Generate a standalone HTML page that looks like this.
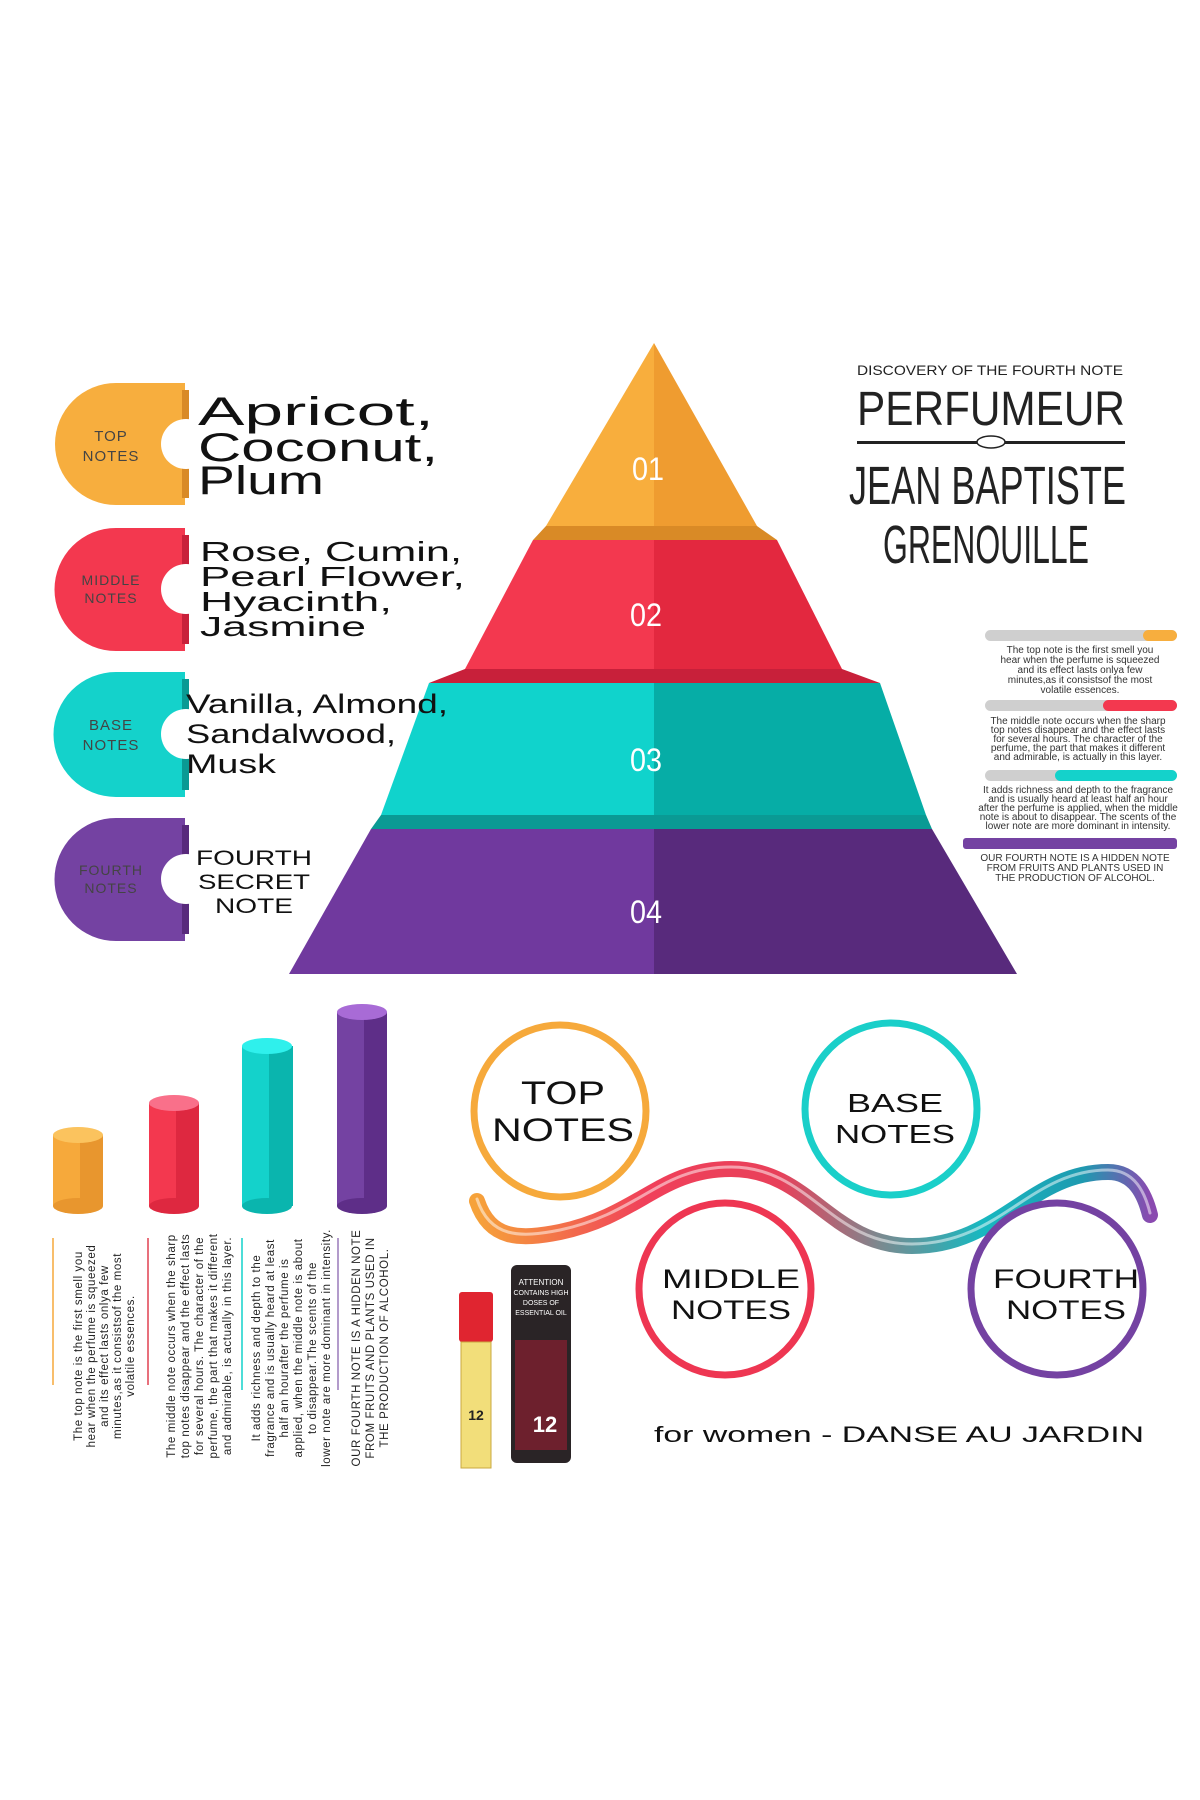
<!DOCTYPE html>
<html><head><meta charset="utf-8"><style>
html,body{margin:0;padding:0;background:#fff;}
svg{display:block;}
text{font-family:"Liberation Sans",sans-serif;}
</style></head><body>
<svg width="1200" height="1800" viewBox="0 0 1200 1800" xmlns="http://www.w3.org/2000/svg">
<defs>
<linearGradient id="wg" x1="477" y1="0" x2="1150" y2="0" gradientUnits="userSpaceOnUse">
<stop offset="0" stop-color="#F6A23A"/><stop offset="0.25" stop-color="#F0405A"/><stop offset="0.45" stop-color="#E8405A"/><stop offset="0.6" stop-color="#7A8A90"/><stop offset="0.75" stop-color="#18B8C0"/><stop offset="0.9" stop-color="#1E9AB0"/><stop offset="1" stop-color="#8A4AB0"/>
</linearGradient>
</defs>
<rect width="1200" height="1800" fill="#fff"/>

<!-- Pyramid -->
<polygon points="654,343 546,526 654,526" fill="#F8AE3D"/>
<polygon points="654,343 757,526 654,526" fill="#EF9C30"/>
<polygon points="546,526 757,526 777,540 533,540" fill="#D98A26"/>
<polygon points="533,540 654,540 654,669 465,669" fill="#F3384F"/>
<polygon points="654,540 777,540 842,669 654,669" fill="#E3283F"/>
<polygon points="465,669 842,669 880,683 429,683" fill="#C8203A"/>
<polygon points="429,683 654,683 654,815 381,815" fill="#10D3CC"/>
<polygon points="654,683 880,683 926,815 654,815" fill="#06ADA6"/>
<polygon points="381,815 926,815 932,829 371,829" fill="#0A9A94"/>
<polygon points="371,829 654,829 654,974 289,974" fill="#70399E"/>
<polygon points="654,829 932,829 1017,974 654,974" fill="#582A7C"/>
<g fill="#fff" font-size="32" text-anchor="middle">
<text x="648" y="480" textLength="32" lengthAdjust="spacingAndGlyphs">01</text>
<text x="646" y="626" textLength="32" lengthAdjust="spacingAndGlyphs">02</text>
<text x="646" y="771" textLength="32" lengthAdjust="spacingAndGlyphs">03</text>
<text x="646" y="923" textLength="32" lengthAdjust="spacingAndGlyphs">04</text>
</g>

<!-- Tabs -->
<g>
<path d="M116 383 H185 V505 H116 A61 61 0 0 1 116 383 Z" fill="#F7AE3E"/>
<rect x="182" y="390" width="7" height="108" fill="#D98A26"/>
<circle cx="186" cy="444" r="25" fill="#fff"/>
<text x="111" y="441" font-size="15" fill="#444" text-anchor="middle" letter-spacing="1">TOP</text>
<text x="111" y="461" font-size="15" fill="#444" text-anchor="middle" letter-spacing="1">NOTES</text>

<path d="M116 528 H185 V651 H116 A61.5 61.5 0 0 1 116 528 Z" fill="#F3384F"/>
<rect x="182" y="535" width="7" height="109" fill="#C8203A"/>
<circle cx="186" cy="589" r="25" fill="#fff"/>
<text x="111" y="585" font-size="14" fill="#444" text-anchor="middle" letter-spacing="1">MIDDLE</text>
<text x="111" y="603" font-size="14" fill="#444" text-anchor="middle" letter-spacing="1">NOTES</text>

<path d="M116 672 H185 V797 H116 A62.5 62.5 0 0 1 116 672 Z" fill="#14D2CB"/>
<rect x="182" y="679" width="7" height="111" fill="#0A9A94"/>
<circle cx="186" cy="734" r="25" fill="#fff"/>
<text x="111" y="730" font-size="15" fill="#444" text-anchor="middle" letter-spacing="1">BASE</text>
<text x="111" y="750" font-size="15" fill="#444" text-anchor="middle" letter-spacing="1">NOTES</text>

<path d="M116 818 H185 V941 H116 A61.5 61.5 0 0 1 116 818 Z" fill="#7442A2"/>
<rect x="182" y="825" width="7" height="109" fill="#582A7C"/>
<circle cx="186" cy="879" r="25" fill="#fff"/>
<text x="111" y="875" font-size="14" fill="#444" text-anchor="middle" letter-spacing="1">FOURTH</text>
<text x="111" y="893" font-size="14" fill="#444" text-anchor="middle" letter-spacing="1">NOTES</text>
</g>

<!-- Tab item texts -->
<g fill="#111">
<text x="198" y="425" font-size="40" textLength="236" lengthAdjust="spacingAndGlyphs">Apricot,</text>
<text x="198" y="461" font-size="40" textLength="240" lengthAdjust="spacingAndGlyphs">Coconut,</text>
<text x="198" y="494" font-size="40" textLength="126" lengthAdjust="spacingAndGlyphs">Plum</text>
<text x="200" y="561" font-size="28" textLength="262" lengthAdjust="spacingAndGlyphs">Rose, Cumin,</text>
<text x="200" y="586" font-size="28" textLength="265" lengthAdjust="spacingAndGlyphs">Pearl Flower,</text>
<text x="200" y="611" font-size="28" textLength="192" lengthAdjust="spacingAndGlyphs">Hyacinth,</text>
<text x="200" y="636" font-size="28" textLength="166" lengthAdjust="spacingAndGlyphs">Jasmine</text>
<text x="186" y="713" font-size="27" textLength="262" lengthAdjust="spacingAndGlyphs">Vanilla, Almond,</text>
<text x="186" y="743" font-size="27" textLength="210" lengthAdjust="spacingAndGlyphs">Sandalwood,</text>
<text x="186" y="773" font-size="27" textLength="90" lengthAdjust="spacingAndGlyphs">Musk</text>
<text x="254" y="865" font-size="21" text-anchor="middle" textLength="116" lengthAdjust="spacingAndGlyphs">FOURTH</text>
<text x="254" y="889" font-size="21" text-anchor="middle" textLength="112" lengthAdjust="spacingAndGlyphs">SECRET</text>
<text x="254" y="913" font-size="21" text-anchor="middle" textLength="78" lengthAdjust="spacingAndGlyphs">NOTE</text>
</g>

<!-- Title -->
<g fill="#222">
<text x="857" y="375" font-size="14" textLength="266" lengthAdjust="spacingAndGlyphs">DISCOVERY OF THE FOURTH NOTE</text>
<text x="857" y="425" font-size="48" textLength="268" lengthAdjust="spacingAndGlyphs" style="font-weight:normal">PERFUMEUR</text>
<rect x="857" y="441" width="268" height="3"/>
<ellipse cx="991" cy="442" rx="14" ry="6" fill="#fff" stroke="#222" stroke-width="1.5"/>
<text x="849" y="504" font-size="54" textLength="277" lengthAdjust="spacingAndGlyphs">JEAN BAPTISTE</text>
<text x="883" y="563" font-size="54" textLength="206" lengthAdjust="spacingAndGlyphs">GRENOUILLE</text>
</g>

<!-- Right bars -->
<g>
<rect x="985" y="630" width="192" height="11" rx="5.5" fill="#CFCFCF"/>
<rect x="1143" y="630" width="34" height="11" rx="5.5" fill="#F7AE3E"/>
<rect x="985" y="700" width="192" height="11" rx="5.5" fill="#CFCFCF"/>
<rect x="1103" y="700" width="74" height="11" rx="5.5" fill="#F3384F"/>
<rect x="985" y="770" width="192" height="11" rx="5.5" fill="#CFCFCF"/>
<rect x="1055" y="770" width="122" height="11" rx="5.5" fill="#14D2CB"/>
<rect x="963" y="838" width="214" height="11" rx="3" fill="#7442A2"/>
</g>
<g font-size="10" fill="#333" text-anchor="middle">
<text x="1080" y="653">The top note is the first smell you</text>
<text x="1080" y="663">hear when the perfume is squeezed</text>
<text x="1080" y="673">and its effect lasts onlya few</text>
<text x="1080" y="683">minutes,as it consistsof the most</text>
<text x="1080" y="693">volatile essences.</text>
<text x="1078" y="724">The middle note occurs when the sharp</text>
<text x="1078" y="733">top notes disappear and the effect lasts</text>
<text x="1078" y="742">for several hours. The character of the</text>
<text x="1078" y="751">perfume, the part that makes it different</text>
<text x="1078" y="760">and admirable, is actually in this layer.</text>
<text x="1078" y="793">It adds richness and depth to the fragrance</text>
<text x="1078" y="802">and is usually heard at least half an hour</text>
<text x="1078" y="811">after the perfume is applied, when the middle</text>
<text x="1078" y="820">note is about to disappear. The scents of the</text>
<text x="1078" y="829">lower note are more dominant in intensity.</text>
<text x="1075" y="861">OUR FOURTH NOTE IS A HIDDEN NOTE</text>
<text x="1075" y="871">FROM FRUITS AND PLANTS USED IN</text>
<text x="1075" y="881">THE PRODUCTION OF ALCOHOL.</text>
</g>

<!-- Cylinders -->
<g>
<rect x="53" y="1135" width="50" height="71" fill="#F6A93B"/><rect x="80" y="1135" width="23" height="71" fill="#E8962E"/>
<ellipse cx="78" cy="1206" rx="25" ry="8" fill="#E8962E"/><ellipse cx="78" cy="1135" rx="25" ry="8" fill="#FBC35E"/>
<rect x="149" y="1103" width="50" height="103" fill="#F3384F"/><rect x="176" y="1103" width="23" height="103" fill="#DE2840"/>
<ellipse cx="174" cy="1206" rx="25" ry="8" fill="#DE2840"/><ellipse cx="174" cy="1103" rx="25" ry="8" fill="#F9708A"/>
<rect x="242" y="1046" width="51" height="160" fill="#14D2CB"/><rect x="269" y="1046" width="24" height="160" fill="#0AB5AE"/>
<ellipse cx="267" cy="1206" rx="25" ry="8" fill="#0AB5AE"/><ellipse cx="267" cy="1046" rx="25" ry="8" fill="#2FF0EC"/>
<rect x="337" y="1012" width="50" height="194" fill="#7442A2"/><rect x="364" y="1012" width="23" height="194" fill="#5E2E88"/>
<ellipse cx="362" cy="1206" rx="25" ry="8" fill="#5E2E88"/><ellipse cx="362" cy="1012" rx="25" ry="8" fill="#A86BD6"/>
</g>
<g stroke-width="1.5">
<line x1="53" y1="1238" x2="53" y2="1385" stroke="#F6A93B"/>
<line x1="148" y1="1238" x2="148" y2="1385" stroke="#E04050"/>
<line x1="242" y1="1238" x2="242" y2="1390" stroke="#14D2CB"/>
<line x1="338" y1="1238" x2="338" y2="1390" stroke="#9A7ABA"/>
</g>
<g font-size="11.5" fill="#222" text-anchor="middle" letter-spacing="0.6">
<g transform="translate(0,1346) rotate(-90)">
<text x="0" y="82">The top note is the first smell you</text>
<text x="0" y="95">hear when the perfume is squeezed</text>
<text x="0" y="108">and its effect lasts onlya few</text>
<text x="0" y="121">minutes,as it consistsof the most</text>
<text x="0" y="134">volatile essences.</text>
</g>
<g transform="translate(0,1346) rotate(-90)">
<text x="0" y="175">The middle note occurs when the sharp</text>
<text x="0" y="189">top notes disappear and the effect lasts</text>
<text x="0" y="203">for several hours. The character of the</text>
<text x="0" y="217">perfume, the part that makes it different</text>
<text x="0" y="231">and admirable, is actually in this layer.</text>
</g>
<g transform="translate(0,1348) rotate(-90)">
<text x="0" y="260">It adds richness and depth to the</text>
<text x="0" y="274">fragrance and is usually heard at least</text>
<text x="0" y="288">half an hourafter the perfume is</text>
<text x="0" y="302">applied, when the middle note is about</text>
<text x="0" y="316">to disappear.The scents of the</text>
<text x="0" y="330">lower note are more dominant in intensity.</text>
</g>
<g transform="translate(0,1348) rotate(-90)">
<text x="0" y="360">OUR FOURTH NOTE IS A HIDDEN NOTE</text>
<text x="0" y="374">FROM FRUITS AND PLANTS USED IN</text>
<text x="0" y="388">THE PRODUCTION OF ALCOHOL.</text>
</g>
</g>

<!-- Wave -->
<path d="M477 1201 C490 1240 520 1240 560 1232 C640 1215 660 1169 731 1169 C810 1169 830 1246 912 1246 C1000 1246 1030 1172 1108 1172 C1135 1172 1145 1195 1150 1215" fill="none" stroke="url(#wg)" stroke-width="16" stroke-linecap="round"/>
<path d="M477 1201 C490 1240 520 1240 560 1232 C640 1215 660 1169 731 1169 C810 1169 830 1246 912 1246 C1000 1246 1030 1172 1108 1172 C1135 1172 1145 1195 1150 1215" fill="none" stroke="#fff" stroke-opacity="0.5" stroke-width="3" stroke-linecap="round" transform="translate(0,-2)"/>

<!-- Circles -->
<g fill="#fff" stroke-width="7">
<circle cx="560" cy="1111" r="86" stroke="#F6A93B"/>
<circle cx="891" cy="1109" r="86" stroke="#1ACFC9"/>
<circle cx="725" cy="1289" r="86" stroke="#EE3652"/>
<circle cx="1057" cy="1289" r="86" stroke="#7442A2"/>
</g>
<g fill="#111" text-anchor="middle">
<text x="563" y="1104" font-size="32" textLength="84" lengthAdjust="spacingAndGlyphs">TOP</text>
<text x="563" y="1141" font-size="32" textLength="142" lengthAdjust="spacingAndGlyphs">NOTES</text>
<text x="895" y="1112" font-size="26" textLength="96" lengthAdjust="spacingAndGlyphs">BASE</text>
<text x="895" y="1143" font-size="26" textLength="120" lengthAdjust="spacingAndGlyphs">NOTES</text>
<text x="731" y="1288" font-size="27" textLength="138" lengthAdjust="spacingAndGlyphs">MIDDLE</text>
<text x="731" y="1319" font-size="27" textLength="120" lengthAdjust="spacingAndGlyphs">NOTES</text>
<text x="1066" y="1288" font-size="27" textLength="146" lengthAdjust="spacingAndGlyphs">FOURTH</text>
<text x="1066" y="1319" font-size="27" textLength="120" lengthAdjust="spacingAndGlyphs">NOTES</text>
<text x="654" y="1442" font-size="22" text-anchor="start" textLength="490" lengthAdjust="spacingAndGlyphs">for women - DANSE AU JARDIN</text>
</g>

<!-- Products -->
<g>
<rect x="459" y="1292" width="34" height="50" rx="3" fill="#E02530"/>
<rect x="461" y="1342" width="30" height="126" fill="#F2DE7A" stroke="#C9A840"/>
<text x="476" y="1420" font-size="14" fill="#222" text-anchor="middle" font-weight="bold">12</text>
<rect x="511" y="1265" width="60" height="198" rx="6" fill="#2A2426"/>
<rect x="515" y="1340" width="52" height="110" fill="#8A2030" opacity="0.7"/>
<text x="541" y="1285" font-size="8" fill="#fff" text-anchor="middle">ATTENTION</text>
<text x="541" y="1295" font-size="7" fill="#fff" text-anchor="middle">CONTAINS HIGH</text>
<text x="541" y="1305" font-size="7" fill="#fff" text-anchor="middle">DOSES OF</text>
<text x="541" y="1315" font-size="7" fill="#fff" text-anchor="middle">ESSENTIAL OIL</text>
<text x="545" y="1432" font-size="22" fill="#fff" text-anchor="middle" font-weight="bold">12</text>
</g>
</svg>
</body></html>
